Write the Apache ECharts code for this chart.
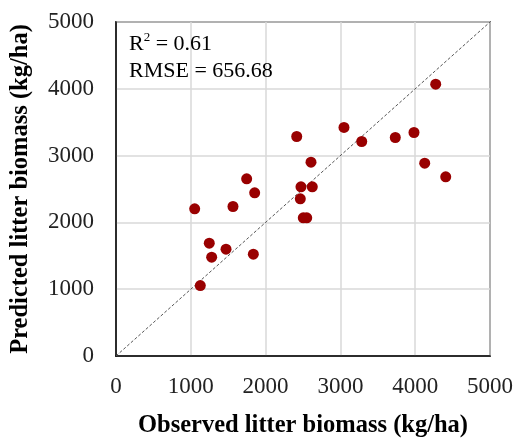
<!DOCTYPE html>
<html>
<head>
<meta charset="utf-8">
<script src="https://cdn.jsdelivr.net/npm/echarts@6/dist/echarts.min.js"></script>
<style>html,body{margin:0;padding:0;background:#fff;}#c{width:518px;height:438px;}</style>
</head>
<body>
<div id="c"></div>
<script>
const observed = [4274, 3048, 2416, 3285, 3734, 3984, 2607, 4127, 4408, 2473, 2624, 1747, 1854, 1052, 1564, 1247, 1471, 1279, 1836, 1127, 2464, 2504, 2550];
const predicted = [4069, 3421, 3286, 3211, 3271, 3346, 2901, 2886, 2683, 2533, 2533, 2653, 2443, 2204, 2238, 1689, 1599, 1479, 1524, 1055, 2353, 2069, 2069];
const oneToOne = [[0, 0], [5000, 5000]];
const r2Text = '0.61';
const rmseText = '656.68';
const xTitle = 'Observed litter biomass (kg/ha)';
const yTitle = 'Predicted litter biomass (kg/ha)';

const points = observed.map((x, i) => [x, predicted[i]]);
const font = '"Liberation Serif", "Times New Roman", serif';
const chart = echarts.init(document.getElementById('c'), null, {renderer: 'canvas'});
chart.setOption({
  animation: false,
  backgroundColor: '#fff',
  grid: {left: 116, right: 28, top: 22, bottom: 82, outerBoundsMode: 'none', containLabel: false, show: true, borderColor: '#000', borderWidth: 1.5, backgroundColor: 'transparent'},
  xAxis: {
    type: 'value', min: 0, max: 5000, interval: 1000,
    name: xTitle, nameLocation: 'middle', nameGap: 57,
    nameTextStyle: {fontFamily: font, fontWeight: 'bold', fontSize: 24.5, color: '#000'},
    axisLine: {show: true, lineStyle: {color: '#000', width: 1.5}},
    axisTick: {show: false},
    splitLine: {show: true, lineStyle: {color: '#d9d9d9', width: 1.5}},
    axisLabel: {fontFamily: font, fontSize: 23, color: '#222', margin: 19, formatter: v => String(v)}
  },
  yAxis: {
    type: 'value', min: 0, max: 5000, interval: 1000,
    name: yTitle, nameLocation: 'middle', nameGap: 83, nameRotate: 90,
    nameTextStyle: {fontFamily: font, fontWeight: 'bold', fontSize: 24.5, color: '#000'},
    axisLine: {show: true, lineStyle: {color: '#000', width: 1.5}},
    axisTick: {show: false},
    splitLine: {show: true, lineStyle: {color: '#d9d9d9', width: 1.5}},
    axisLabel: {fontFamily: font, fontSize: 23, color: '#222', margin: 22, formatter: v => String(v)}
  },
  graphic: [{
    type: 'text', left: 129, top: 31, z: 100,
    style: {
      text: '{r|R}{sup|2}{r| = ' + r2Text + '}\n{r|RMSE = ' + rmseText + '}',
      rich: {
        r: {fontFamily: font, fontSize: 22, color: '#111', lineHeight: 27},
        sup: {fontFamily: font, fontSize: 13, color: '#111', verticalAlign: 'top', lineHeight: 27, padding: [0, 0, 8, 0]}
      }
    }
  }],
  series: [{
    type: 'line', data: oneToOne, symbol: 'none', silent: true,
    lineStyle: {color: '#555', width: 1, type: [3, 2]}, z: 1
  }, {
    type: 'scatter', data: points, symbol: 'circle', symbolSize: 11,
    itemStyle: {color: '#990000', opacity: 1}, z: 3
  }]
});
</script>
</body>
</html>
